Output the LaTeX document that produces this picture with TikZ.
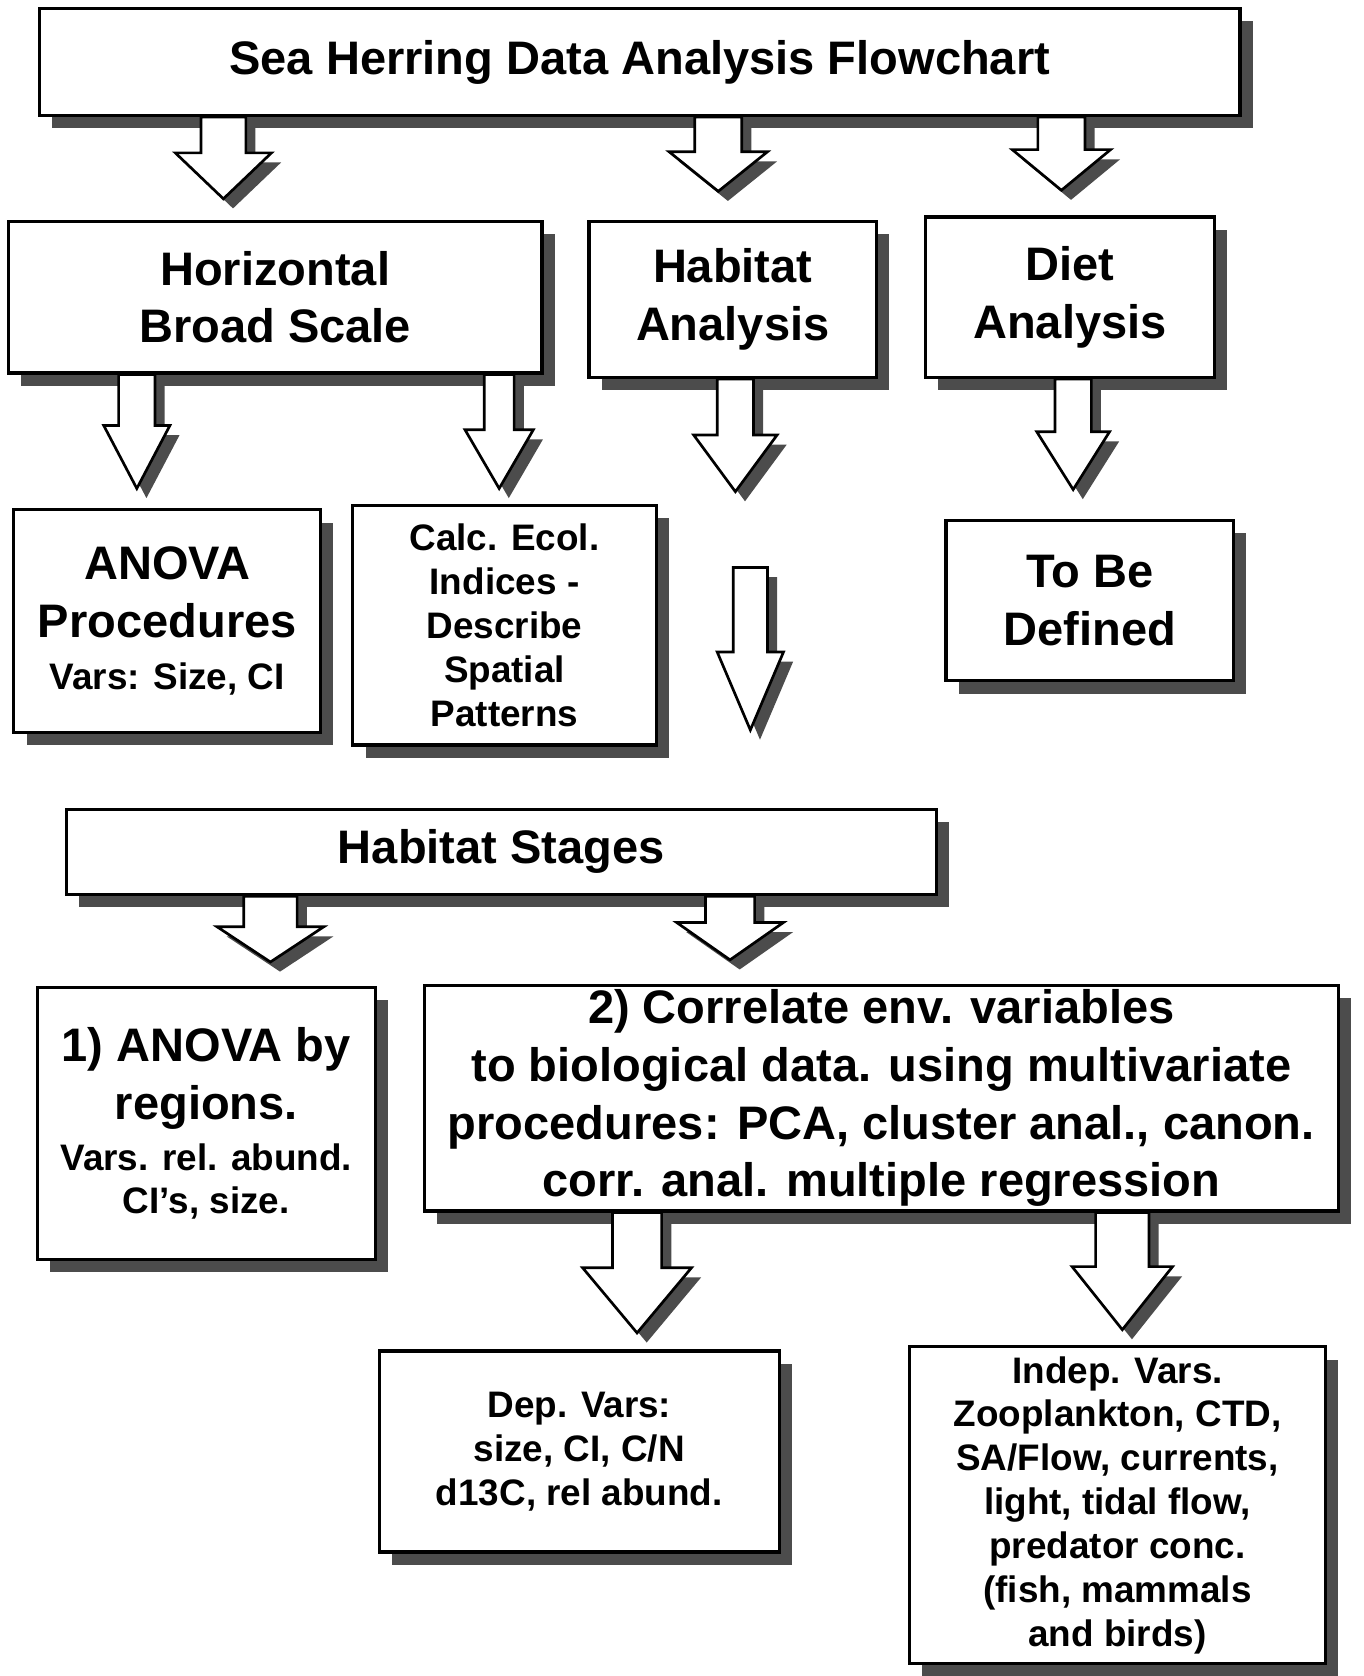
\documentclass[tikz,border=0pt]{standalone}
\usepackage{fontspec}
\setmainfont{Liberation Sans}
\usetikzlibrary{calc,shadows}
\newcommand{\bigfnt}{\fontsize{44}{54}\selectfont\bfseries}
\newcommand{\smallfnt}{\fontsize{34.5}{41}\selectfont\bfseries}
\newcommand{\midfnt}{\fontsize{34.5}{54}\selectfont\bfseries}
\tikzstyle{every path}=[line join=miter]
\tikzstyle{box}=[draw, line width=3pt, fill=white, inner sep=0pt, align=center, font=\bigfnt,
    drop shadow={shadow xshift=12pt, shadow yshift=-12pt, fill=black!70, opacity=1}]
\tikzstyle{smallbox}=[box, font=\smallfnt]
\tikzstyle{blockarrow}=[draw, line width=2.5pt, fill=white,
    drop shadow={shadow xshift=9pt, shadow yshift=-9pt, fill=black!70, opacity=1}]
% start, tip, half shaft, half head, head length
\newcommand{\hollowarrow}[5]{%
    \draw[blockarrow] ($(#1)+(-#3,0)$) -- ($(#2)+(-#3,-#5)$) -- ($(#2)+(-#4,-#5)$) -- (#2)
        -- ($(#2)+(#4,-#5)$) -- ($(#2)+(#3,-#5)$) -- ($(#1)+(#3,0)$) -- cycle;}
\begin{document}
\begin{tikzpicture}[x=1pt, y=-1pt]
            \useasboundingbox (0,0) rectangle (1276,1568);

            \node[box, minimum width=1123pt, minimum height=100pt] (title) at (598.5,58)
                {Sea Herring Data Analysis Flowchart};

            \node[box, minimum width=499pt, minimum height=142pt] (broad) at (257.5,278)
                {Horizontal\\Broad Scale};
            \node[box, minimum width=269pt, minimum height=146pt] (habitat) at (685.5,280)
                {Habitat\\Analysis};
            \node[box, minimum width=270pt, minimum height=150pt] (diet) at (1001,278)
                {Diet\\Analysis};

            \node[box, minimum width=287pt, minimum height=208pt] (anova) at (156.5,581)
                {ANOVA\\Procedures\\[-5pt]\midfnt Vars: Size, CI};
            \node[smallbox, minimum width=284pt, minimum height=224pt] (calc) at (472,585)
                {Calc. Ecol.\\Indices -\\Describe\\Spatial\\Patterns};
            \node[box, minimum width=269pt, minimum height=150pt] (tbd) at (1019.5,562)
                {To Be\\Defined};

            \node[box, minimum width=814pt, minimum height=80pt] (stages) at (469,797)
                {Habitat Stages};

            \node[box, minimum width=316pt, minimum height=254pt] (anovareg) at (193,1051)
                {1) ANOVA by\\regions.\\[-6pt]\midfnt Vars. rel. abund.\\[-14pt]\midfnt CI’s, size.};
            \node[box, minimum width=855pt, minimum height=211pt] (correl) at (824.5,1027.5)
                {2) Correlate env. variables\\to biological data. using multivariate\\procedures: PCA, cluster anal., canon.\\corr. anal. multiple regression};

            \node[smallbox, minimum width=374pt, minimum height=188pt] (dep) at (542,1358)
                {Dep. Vars:\\size, CI, C/N\\d13C, rel abund.};
            \node[smallbox, minimum width=389pt, minimum height=296pt] (indep) at (1045.5,1408)
                {Indep. Vars.\\Zooplankton, CTD,\\SA/Flow, currents,\\light, tidal flow,\\predator conc.\\(fish, mammals\\and birds)};

            \coordinate (t1) at (209,186);
            \coordinate (t2) at (672,179);
            \coordinate (t3) at (993,178);
            \coordinate (b1) at (128,457);
            \coordinate (b2) at (467,457);
            \coordinate (h1) at (688,460);
            \coordinate (d1) at (1004,458);
            \coordinate (freetop) at (702,531);
            \coordinate (freetip) at (702,683);
            \coordinate (s1) at (253,900);
            \coordinate (s2) at (683,898);
            \coordinate (c1) at (596,1247);
            \coordinate (c2) at (1050,1244);

            \hollowarrow{title.south -| t1}{t1}{21}{45}{43}
            \hollowarrow{title.south -| t2}{t2}{22}{46}{37}
            \hollowarrow{title.south -| t3}{t3}{22}{46}{38}
            \hollowarrow{broad.south -| b1}{b1}{17}{31}{59}
            \hollowarrow{broad.south -| b2}{b2}{14}{32}{55}
            \hollowarrow{habitat.south -| h1}{h1}{17}{39}{53}
            \hollowarrow{diet.south -| d1}{d1}{17}{34}{54}
            \hollowarrow{freetop}{freetip}{16}{31}{73}
            \hollowarrow{stages.south -| s1}{s1}{25}{50}{33}
            \hollowarrow{stages.south -| s2}{s2}{23}{50}{35}
            \hollowarrow{correl.south -| c1}{c1}{23}{51}{61}
            \hollowarrow{correl.south -| c2}{c2}{25}{47}{59}
        \end{tikzpicture}
\end{document}
